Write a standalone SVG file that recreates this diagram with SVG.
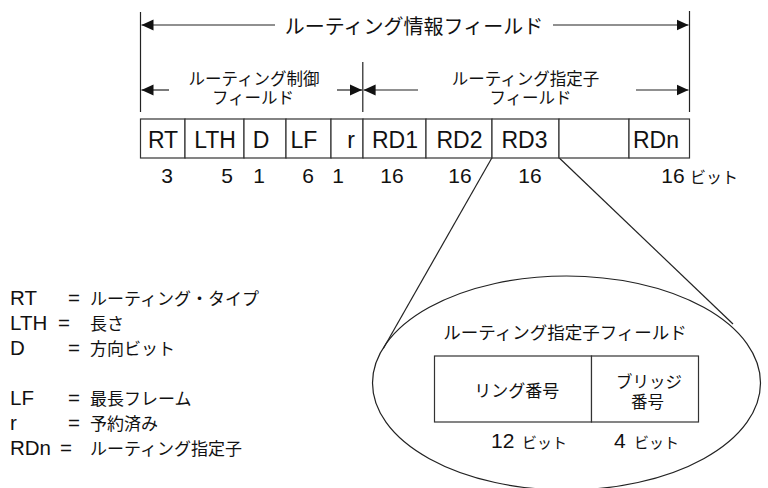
<svg xmlns="http://www.w3.org/2000/svg" width="768" height="488" viewBox="0 0 768 488">
<defs>
<marker id="ah" markerUnits="userSpaceOnUse" markerWidth="13" markerHeight="12" refX="12" refY="6" orient="auto"><path d="M0,0.4 L12,6 L0,11.6 Z" fill="#111"/></marker>
</defs>
<style>
text{font-family:"Liberation Sans","Noto Sans CJK JP",sans-serif;fill:#111}
.jp{font-family:"Noto Sans CJK JP",sans-serif}
.ln{stroke:#222;stroke-width:1.2;fill:none}
.arr{stroke:#222;stroke-width:1.2;fill:none;marker-end:url(#ah)}
.box{fill:#fff;stroke:#333;stroke-width:1.2}
.fld{font-size:23px;text-anchor:middle}
.num{font-size:21px;text-anchor:middle}
.hd{font-size:16.5px;text-anchor:middle}
.lg{font-size:20.5px}
.lj{font-size:17px}
.bit{font-size:15px}
.c{text-anchor:middle}
</style>
<rect width="768" height="488" fill="#fff"/>

<g id="connectors">
  <line class="ln" x1="140.5" y1="12" x2="140.5" y2="112"/>
  <line class="ln" x1="689.5" y1="11" x2="689.5" y2="112"/>
  <line class="ln" x1="362.8" y1="62" x2="362.8" y2="112"/>
  <line class="arr" x1="275" y1="25" x2="141.5" y2="25"/>
  <line class="arr" x1="553" y1="25" x2="688.5" y2="25"/>
  <line class="arr" x1="169" y1="90" x2="141.5" y2="90"/>
  <line class="arr" x1="337" y1="90" x2="362" y2="90"/>
  <line class="arr" x1="418" y1="90" x2="363.6" y2="90"/>
  <line class="arr" x1="636" y1="90" x2="688.5" y2="90"/>
  <line class="ln" x1="491.8" y1="158" x2="383.3" y2="348.5"/>
  <line class="ln" x1="559.3" y1="158" x2="733" y2="324"/>
</g>

<g id="routing-info-label">
  <text class="jp" x="414" y="34" style="font-size:20px;text-anchor:middle">ルーティング情報フィールド</text>
</g>
<g id="routing-control-label">
  <text class="hd" x="254" y="85">ルーティング制御</text>
  <text class="hd" x="253" y="104">フィールド</text>
</g>
<g id="route-designator-label">
  <text class="hd" x="525.5" y="85">ルーティング指定子</text>
  <text class="hd" x="530.5" y="104">フィールド</text>
</g>

<g id="field-RT"><rect class="box" x="140.5" y="119" width="44.5" height="39"/><text class="fld" x="163" y="148">RT</text><text class="num" x="167" y="183">3</text></g>
<g id="field-LTH"><rect class="box" x="185" y="119" width="59" height="39"/><text class="fld" x="215" y="148">LTH</text><text class="num" x="227" y="183">5</text></g>
<g id="field-D"><rect class="box" x="244" y="119" width="42" height="39"/><text class="fld" x="261" y="148">D</text><text class="num" x="259" y="183">1</text></g>
<g id="field-LF"><rect class="box" x="286" y="119" width="45" height="39"/><text class="fld" x="304" y="148">LF</text><text class="num" x="308" y="183">6</text></g>
<g id="field-r"><rect class="box" x="331" y="119" width="32" height="39"/><text class="fld" x="355" y="148" style="text-anchor:end">r</text><text class="num" x="338" y="183">1</text></g>
<g id="field-RD1"><rect class="box" x="363" y="119" width="63" height="39"/><text class="fld" x="395" y="148">RD1</text><text class="num" x="392" y="183">16</text></g>
<g id="field-RD2"><rect class="box" x="426" y="119" width="66" height="39"/><text class="fld" x="459.5" y="148">RD2</text><text class="num" x="460" y="183">16</text></g>
<g id="field-RD3"><rect class="box" x="492" y="119" width="67" height="39"/><text class="fld" x="524.5" y="148">RD3</text><text class="num" x="530" y="183">16</text></g>
<g id="field-blank"><rect class="box" x="559" y="119" width="70" height="39"/></g>
<g id="field-RDn"><rect class="box" x="629" y="119" width="60.5" height="39"/><text class="fld" x="656" y="148">RDn</text><text class="num" x="673" y="183">16</text><text class="jp" x="690" y="183" style="font-size:16px">ビット</text></g>

<g id="legend">
  <text class="lg" x="10" y="305">RT</text><text class="lg" x="68" y="305">=</text><text class="jp lj" x="90" y="305">ルーティング・タイプ</text>
  <text class="lg" x="10" y="330">LTH</text><text class="lg" x="58" y="330">=</text><text class="jp lj" x="90" y="330">長さ</text>
  <text class="lg" x="10" y="355">D</text><text class="lg" x="68" y="355">=</text><text class="jp lj" x="90" y="355">方向ビット</text>
  <text class="lg" x="10" y="405">LF</text><text class="lg" x="68" y="405">=</text><text class="jp lj" x="90" y="405">最長フレーム</text>
  <text class="lg" x="10" y="430">r</text><text class="lg" x="68" y="430">=</text><text class="jp lj" x="90" y="430">予約済み</text>
  <text class="lg" x="10" y="455">RDn</text><text class="lg" x="60" y="455">=</text><text class="jp lj" x="90" y="455">ルーティング指定子</text>
</g>

<g id="route-designator-detail">
  <ellipse cx="566.5" cy="383" rx="194" ry="107" class="ln"/>
  <text class="jp c" x="565" y="339" style="font-size:17.5px">ルーティング指定子フィールド</text>
  <g id="ring-number">
    <rect class="box" x="434.5" y="356" width="157" height="66"/>
    <text class="jp c" x="516.7" y="397" style="font-size:17px">リング番号</text>
    <text x="491" y="448" style="font-size:21px">12</text><text class="jp bit" x="522" y="448">ビット</text>
  </g>
  <g id="bridge-number">
    <rect class="box" x="591.5" y="356" width="107" height="66"/>
    <text class="c" x="649" y="388" style="font-size:16.5px">ブリッジ</text>
    <text class="c" x="647.5" y="408" style="font-size:16.5px">番号</text>
    <text x="614" y="448" style="font-size:21px">4</text><text class="jp bit" x="634" y="448">ビット</text>
  </g>
</g>
</svg>
